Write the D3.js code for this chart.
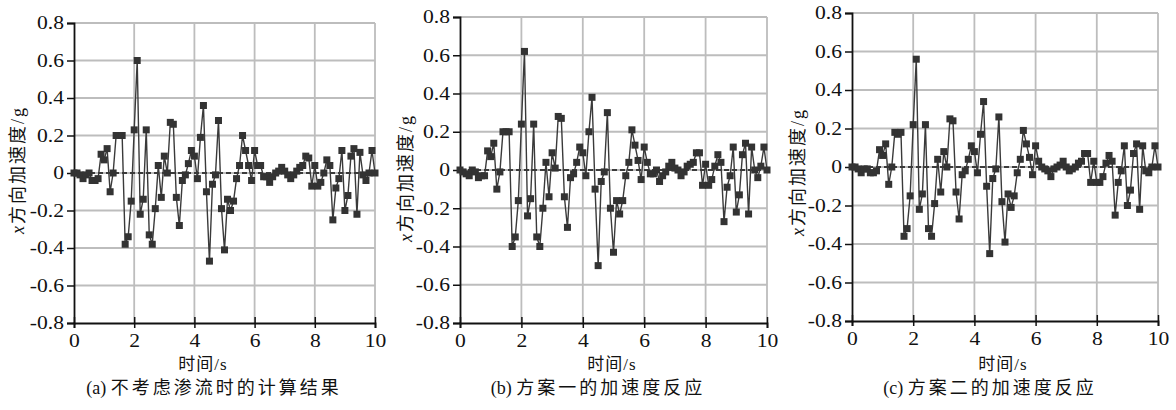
<!DOCTYPE html>
<html>
<head>
<meta charset="utf-8">
<script src="https://cdn.jsdelivr.net/npm/d3@7"></script>
<style>
body{margin:0;background:#fff}
svg{display:block}
</style>
</head>
<body>
<svg id="chart"></svg>
<script>
// time steps (s)
var times = [0,0.1,0.2,0.3,0.4,0.5,0.6,0.7,0.8,0.9,1,1.1,1.2,1.3,1.4,1.5,1.6,1.7,1.8,1.9,
  2,2.1,2.2,2.3,2.4,2.5,2.6,2.7,2.8,2.9,3,3.1,3.2,3.3,3.4,3.5,3.6,3.7,3.8,3.9,
  4,4.1,4.2,4.3,4.4,4.5,4.6,4.7,4.8,4.9,5,5.1,5.2,5.3,5.4,5.5,5.6,5.7,5.8,5.9,
  6,6.1,6.2,6.3,6.4,6.5,6.6,6.7,6.8,6.9,7,7.1,7.2,7.3,7.4,7.5,7.6,7.7,7.8,7.9,
  8,8.1,8.2,8.3,8.4,8.5,8.6,8.7,8.8,8.9,9,9.1,9.2,9.3,9.4,9.5,9.6,9.7,9.8,9.9,10];

// (a) 不考虑渗流
var accA = [0,0,-0.01,-0.03,-0.01,0,-0.04,-0.04,-0.03,0.1,0.07,0.13,-0.1,0,0.2,0.2,0.2,-0.38,-0.34,-0.15,
  0.23,0.6,-0.22,-0.14,0.23,-0.33,-0.38,-0.19,0.04,-0.13,0.09,0,0.27,0.26,-0.13,-0.28,-0.04,-0.01,0.05,0.12,
  0.09,-0.03,0.19,0.36,-0.1,-0.47,-0.06,-0.01,0.28,-0.19,-0.41,-0.14,-0.2,-0.15,-0.03,0.04,0.2,0.12,0.04,-0.04,
  0.12,0.04,0.04,-0.02,-0.02,-0.05,-0.02,0,0.01,0.03,0.01,-0.01,-0.03,-0.01,0.01,0.03,0.04,0.09,0.08,-0.07,
  0.04,-0.07,-0.05,0,0.07,0.04,-0.25,-0.08,-0.03,0.12,-0.2,-0.12,0.09,0.13,-0.22,0.11,-0.01,-0.04,0,0.12,0];

// (b) 方案一
var accB = [0,-0.01,-0.02,-0.03,0,-0.01,-0.04,-0.03,-0.03,0.1,0.07,0.14,-0.1,-0.01,0.2,0.2,0.2,-0.4,-0.35,-0.16,
  0.24,0.62,-0.24,-0.15,0.24,-0.35,-0.4,-0.2,0.04,-0.14,0.09,0.01,0.28,0.27,-0.14,-0.3,-0.04,-0.02,0.04,0.12,
  0.09,-0.03,0.2,0.38,-0.1,-0.5,-0.06,-0.01,0.3,-0.2,-0.43,-0.16,-0.23,-0.16,-0.03,0.04,0.21,0.13,0.05,-0.05,
  0.12,0.04,-0.02,-0.02,0,-0.06,-0.03,-0.01,0.02,0.04,0.01,0,-0.03,-0.01,0.02,0.03,0.04,0.09,0.09,-0.08,
  0.03,-0.08,-0.05,0.02,0.08,0.04,-0.27,-0.09,-0.03,0.12,-0.22,-0.13,0.08,0.14,-0.23,0.12,0,-0.04,0.02,0.12,0];

// (c) 方案二
var accC = [0,0,-0.01,-0.03,-0.01,-0.01,-0.03,-0.03,-0.02,0.09,0.06,0.12,-0.09,0,0.18,0.17,0.18,-0.36,-0.32,-0.15,
  0.22,0.56,-0.22,-0.14,0.22,-0.32,-0.36,-0.19,0.04,-0.13,0.08,0,0.25,0.24,-0.13,-0.27,-0.04,-0.02,0.04,0.11,
  0.08,-0.03,0.17,0.34,-0.1,-0.45,-0.06,-0.01,0.26,-0.18,-0.39,-0.14,-0.21,-0.15,-0.03,0.04,0.19,0.12,0.05,-0.04,
  0.11,0.03,0,-0.01,-0.02,-0.05,-0.01,0,0.01,0.03,0,-0.02,-0.01,0,0.02,0.03,0.07,0.07,-0.08,0.03,
  -0.08,-0.08,-0.05,0.02,0.06,0.03,-0.25,-0.08,-0.02,0.11,-0.2,-0.12,0.07,0.12,-0.22,0.11,-0.02,-0.03,0,0.11,0];

var xTicks = [0,2,4,6,8,10];
var yTicks = [-0.8,-0.6,-0.4,-0.2,0,0.2,0.4,0.6,0.8];
var yTickLabels = ["-0.8","-0.6","-0.4","-0.2","0","0.2","0.4","0.6","0.8"];
var xTitle = ["时间", "/s"];
var yTitle = ["x", "方向加速度", "/g"];
var capTags = ["(a) ", "(b) ", "(c) "];
var capTexts = ["不考虑渗流时的计算结果", "方案一的加速度反应", "方案二的加速度反应"];

var W = 1176, H = 410;
var serif = "'Liberation Serif','Times New Roman',serif";
var cjk = "'Noto Sans CJK SC',sans-serif";
var sx = 1.2;   // the scan is a little wider than tall
var svg = d3.select("#chart").attr("width", W).attr("height", H);

var panels = [
  {data: accA, i: 0, l: 74,  r: 375,  t: 23, b: 323, yl: 18,  yc: 170, xl: 203,  cx: 214},
  {data: accB, i: 1, l: 460, r: 767,  t: 17, b: 323, yl: 406, yc: 178, xl: 612,  cx: 598},
  {data: accC, i: 2, l: 852, r: 1158, t: 13, b: 321, yl: 798, yc: 172, xl: 1003, cx: 990}
];

panels.forEach(function(p){
  var x = d3.scaleLinear().domain([0,10]).range([p.l, p.r]);
  var y = d3.scaleLinear().domain([-0.8,0.8]).range([p.b, p.t]);
  var g = svg.append("g");

  // grid
  g.selectAll(".vg").data(xTicks.slice(1)).enter().append("line")
    .attr("x1", function(d){ return x(d); }).attr("x2", function(d){ return x(d); })
    .attr("y1", p.t).attr("y2", p.b)
    .style("stroke", "#bdbdbd").style("stroke-width", 1.8);
  g.selectAll(".hg").data(yTicks.slice(1)).enter().append("line")
    .attr("x1", p.l).attr("x2", p.r)
    .attr("y1", function(d){ return y(d); }).attr("y2", function(d){ return y(d); })
    .style("stroke", "#bdbdbd").style("stroke-width", 1.8);

  // zero line
  g.append("line")
    .attr("x1", p.l).attr("x2", p.r).attr("y1", y(0)).attr("y2", y(0))
    .style("stroke", "#111").style("stroke-width", 1.3).style("stroke-dasharray", "5,3");

  // axes
  var ya = g.append("g").attr("transform", "translate(" + p.l + ",0)")
    .call(d3.axisLeft(y).tickValues(yTicks).tickSize(7).tickPadding(3)
      .tickFormat(function(d, i){ return yTickLabels[i]; }));
  var xa = g.append("g").attr("transform", "translate(0," + p.b + ")")
    .call(d3.axisBottom(x).tickValues(xTicks).tickSize(5).tickPadding(6).tickFormat(d3.format("d")));
  xa.selectAll(".tick line").attr("y1", -6);
  [ya, xa].forEach(function(a){
    a.select(".domain").style("stroke", "#111").style("stroke-width", 1.8);
    a.selectAll(".tick line").style("stroke", "#111").style("stroke-width", 1.5);
    a.selectAll("text").style("font-family", serif).style("font-size", "18px").style("fill", "#111");
  });
  // widen glyphs, keep anchor point
  ya.selectAll("text").attr("x", -10 / sx).attr("transform", "scale(" + sx + ",1)");
  xa.selectAll("text").attr("transform", "scale(" + sx + ",1)");

  // series
  var line = d3.line()
    .x(function(d, i){ return x(times[i]); })
    .y(function(d){ return y(d); });
  g.append("path").datum(p.data).attr("d", line)
    .style("fill", "none").style("stroke", "#3a3a3a").style("stroke-width", 1.4);
  g.selectAll(".pt").data(p.data).enter().append("rect")
    .attr("x", function(d, i){ return x(times[i]) - 3.5; })
    .attr("y", function(d){ return y(d) - 3.5; })
    .attr("width", 7).attr("height", 7)
    .style("fill", "#333");

  // titles
  var yt = g.append("text")
    .attr("transform", "translate(" + p.yl + "," + p.yc + ") rotate(-90)")
    .attr("text-anchor", "middle").attr("dy", "0.35em")
    .style("font-size", "18px").style("fill", "#111").style("letter-spacing", "2px");
  yt.append("tspan").style("font-family", serif).style("font-style", "italic").text(yTitle[0]);
  yt.append("tspan").style("font-family", cjk).text(yTitle[1]);
  yt.append("tspan").style("font-family", serif).text(yTitle[2]);

  var xt = g.append("text")
    .attr("x", p.xl).attr("y", 370).attr("text-anchor", "middle")
    .style("font-size", "17px").style("fill", "#111").style("letter-spacing", "1px");
  xt.append("tspan").style("font-family", cjk).text(xTitle[0]);
  xt.append("tspan").style("font-family", serif).text(xTitle[1]);

  var ct = g.append("text")
    .attr("x", p.cx).attr("y", 394).attr("text-anchor", "middle")
    .style("font-size", "18px").style("fill", "#111");
  ct.append("tspan").style("font-family", serif).text(capTags[p.i]);
  ct.append("tspan").style("font-family", cjk).style("letter-spacing", "3px").text(capTexts[p.i]);
});
</script>
</body>
</html>
